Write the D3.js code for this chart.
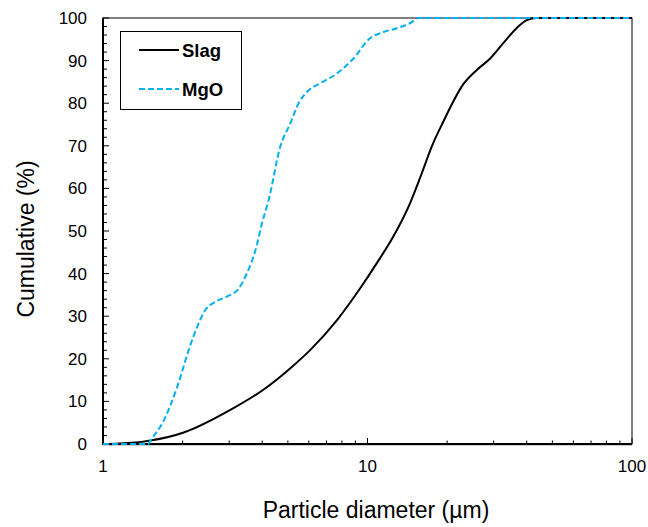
<!DOCTYPE html>
<html>
<head>
<meta charset="utf-8">
<script src="https://cdn.jsdelivr.net/npm/d3@7"></script>
<style>
  body { margin: 0; background: #fff; }
  text { font-family: "Liberation Sans", Arial, sans-serif; }
</style>
</head>
<body>
<div id="chart"></div>
<script>
// particle size distribution
var slagSize = [1, 1.2, 1.4, 1.51, 2.02, 3.03, 4.05, 5.11, 6.08, 7.67, 9.37, 10.83, 12.52, 14.48, 16.03, 17.49, 19.36, 21.1, 22.7, 25.9, 29.1, 32.6, 36.6, 40.0, 43.6, 100];
var slagCum  = [0, 0.2, 0.5, 0.8, 2.7, 8.0, 12.8, 17.8, 22.1, 29.1, 36.5, 42.4, 48.7, 56.5, 63.5, 69.8, 75.7, 80.4, 83.9, 87.8, 90.5, 94.1, 97.6, 99.5, 100, 100];

var mgoSize = [1, 1.48, 1.51, 1.70, 1.91, 2.11, 2.27, 2.44, 2.66, 2.94, 3.26, 3.50, 3.77, 3.99, 4.23, 4.68, 5.11, 5.49, 5.91, 6.63, 7.67, 8.85, 10.2, 11.5, 12.9, 14.5, 15.6, 100];
var mgoCum  = [0, 0, 0.8, 5.6, 13.5, 22.1, 27.5, 31.5, 33.4, 34.6, 36.5, 40.1, 45.5, 51.8, 57.3, 69.8, 75.3, 80.0, 82.7, 84.7, 87.0, 90.5, 95.2, 96.7, 97.6, 98.8, 100, 100];

var xTickLabels = [1, 10, 100];
var yTickLabels = [0, 10, 20, 30, 40, 50, 60, 70, 80, 90, 100];

var width = 648, height = 527;
var plotLeft = 103, plotRight = 632, plotTop = 18, plotBottom = 444;

var svg = d3.select("#chart").append("svg")
	.attr("width", width)
	.attr("height", height);

var x = d3.scaleLog().domain([1, 100]).range([plotLeft, plotRight]);
var y = d3.scaleLinear().domain([0, 100]).range([plotBottom, plotTop]);

// plot frame
svg.append("rect")
	.attr("x", plotLeft).attr("y", plotTop)
	.attr("width", plotRight - plotLeft).attr("height", plotBottom - plotTop)
	.attr("fill", "none")
	.attr("stroke", "#000")
	.attr("stroke-width", 1);

// y ticks (inward), major every 10, minor every 2
var yMinor = d3.range(0, 101, 2);
svg.append("g").selectAll("line").data(yMinor).join("line")
	.attr("x1", plotLeft).attr("x2", function (d) { return plotLeft + (d % 10 === 0 ? 6 : 4); })
	.attr("y1", function (d) { return y(d); }).attr("y2", function (d) { return y(d); })
	.attr("stroke", "#000").attr("stroke-width", 1);

svg.append("g").selectAll("text").data(yTickLabels).join("text")
	.attr("x", plotLeft - 16)
	.attr("y", function (d) { return y(d) + 6; })
	.attr("text-anchor", "end")
	.style("font-size", "17px")
	.text(function (d) { return d; });

// x ticks (inward), log decades
var xMinor = [];
[1, 10].forEach(function (dec) {
	for (var k = 1; k <= 10; k++) xMinor.push(dec * k);
});
xMinor = xMinor.filter(function (v, i, a) { return a.indexOf(v) === i; });
svg.append("g").selectAll("line").data(xMinor).join("line")
	.attr("x1", function (d) { return x(d); }).attr("x2", function (d) { return x(d); })
	.attr("y1", plotBottom).attr("y2", function (d) { return plotBottom - (xTickLabels.indexOf(d) >= 0 ? 6 : 3.5); })
	.attr("stroke", "#000").attr("stroke-width", 1);

svg.append("g").selectAll("text").data(xTickLabels).join("text")
	.attr("x", function (d) { return x(d); })
	.attr("y", 472)
	.attr("text-anchor", "middle")
	.style("font-size", "17px")
	.text(function (d) { return d; });

// axis titles
svg.append("text")
	.attr("x", 376).attr("y", 518)
	.attr("text-anchor", "middle")
	.style("font-size", "23px")
	.text("Particle diameter (\u00b5m)");

svg.append("text")
	.attr("transform", "translate(34,239) rotate(-90)")
	.attr("text-anchor", "middle")
	.style("font-size", "23px")
	.text("Cumulative (%)");

// axis lines
svg.append("line")
	.attr("x1", plotLeft).attr("x2", plotRight).attr("y1", plotBottom + 1).attr("y2", plotBottom + 1)
	.attr("stroke", "#999").attr("stroke-width", 1);
svg.append("line")
	.attr("x1", plotLeft - 1).attr("x2", plotRight).attr("y1", plotBottom).attr("y2", plotBottom)
	.attr("stroke", "#000").attr("stroke-width", 2);
svg.append("line")
	.attr("x1", plotLeft).attr("x2", plotLeft).attr("y1", plotTop).attr("y2", plotBottom)
	.attr("stroke", "#000").attr("stroke-width", 2);

// curves
var line = d3.line()
	.x(function (d) { return x(d[0]); })
	.y(function (d) { return y(d[1]); })
	.curve(d3.curveMonotoneX);

svg.append("path")
	.datum(d3.zip(slagSize, slagCum))
	.attr("d", line)
	.attr("fill", "none")
	.attr("stroke", "#000")
	.attr("stroke-width", 2);

svg.append("path")
	.datum(d3.zip(mgoSize, mgoCum))
	.attr("d", line)
	.attr("fill", "none")
	.attr("stroke", "#00b0f0")
	.attr("stroke-width", 2)
	.attr("stroke-dasharray", "6,3");

// legend
var legend = svg.append("g");
legend.append("rect")
	.attr("x", 120.5).attr("y", 31.5)
	.attr("width", 121).attr("height", 78)
	.attr("fill", "#fff")
	.attr("stroke", "#000").attr("stroke-width", 1);

var legendItems = [
	{ name: "Slag", color: "#000", dash: null, y: 50 },
	{ name: "MgO", color: "#00b0f0", dash: "6,3", y: 89 }
];
legendItems.forEach(function (it) {
	legend.append("line")
		.attr("x1", 139).attr("x2", 179)
		.attr("y1", it.y).attr("y2", it.y)
		.attr("stroke", it.color).attr("stroke-width", 2)
		.attr("stroke-dasharray", it.dash);
	legend.append("text")
		.attr("x", 182).attr("y", it.y + 7)
		.style("font-size", "18.5px")
		.style("font-weight", "bold")
		.text(it.name);
});
</script>
</body>
</html>
